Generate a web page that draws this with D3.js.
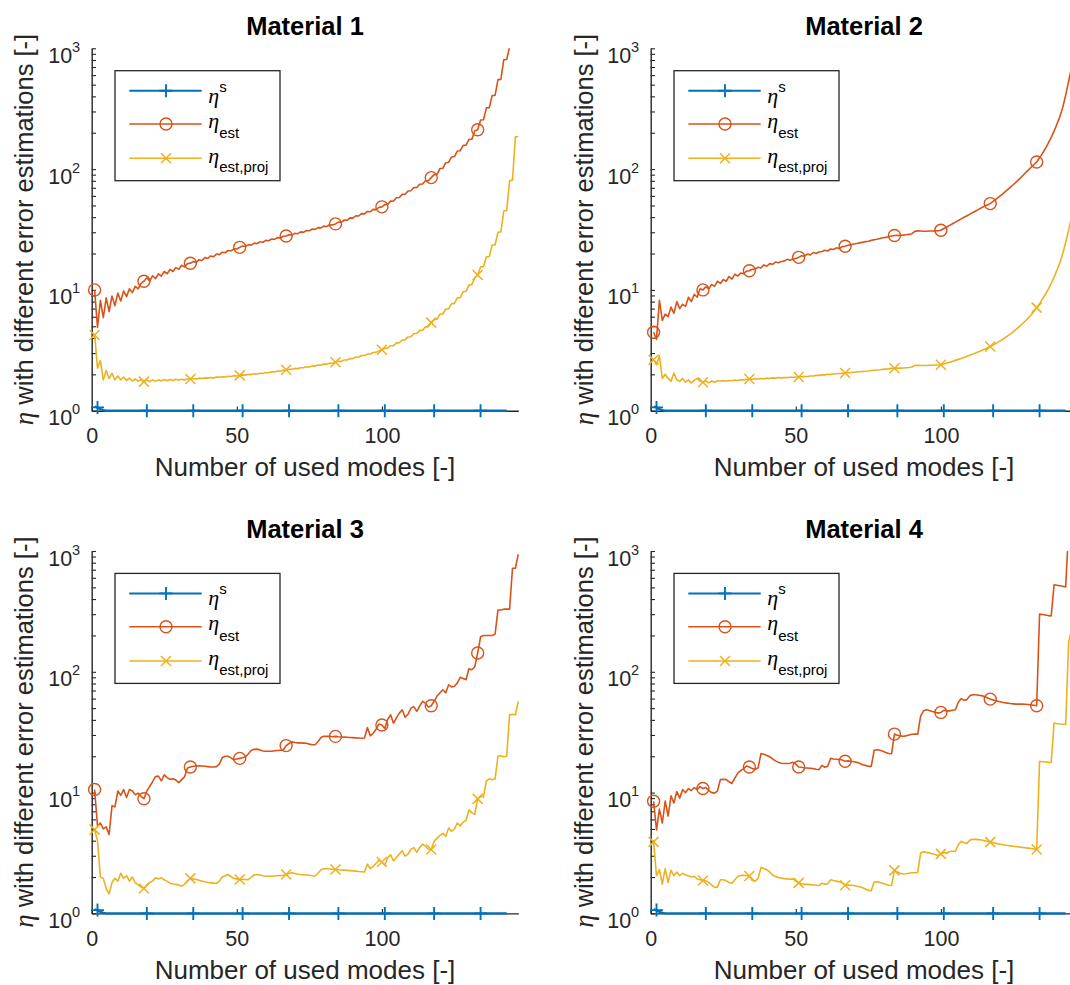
<!DOCTYPE html>
<html>
<head>
<meta charset="utf-8">
<script src="https://cdn.jsdelivr.net/npm/d3@7"></script>
<style>
  body { margin: 0; background: #fff; }
  svg text { font-family: "Liberation Sans", Arial, Helvetica, sans-serif; }
</style>
</head>
<body>
<svg id="fig" width="1070" height="985"></svg>
<script>
// ---- data -------------------------------------------------------------
const modes = d3.range(1, 148);              // number of used modes, 1..147
const xTicks = [0, 50, 100];
const yDecades = [1, 10, 100, 1000];
const yDecadeExponents = ["0", "1", "2", "3"];
const titles = ["Material 1", "Material 2", "Material 3", "Material 4"];
const seriesNames = ["s", "est", "est,proj"];

// positions (1-based mode numbers) where markers are drawn
const markModesS   = [2, 19, 35, 52, 68, 85, 101, 118, 134];
const markModesEst = [1, 18, 34, 51, 67, 84, 100, 117, 133];

// eta^s (same for all four materials)
const etaS = [1.08, 1.065, 1.03, 1.01,
  1,1,1,1,1,1,1,1,1,1,1,1,1,1,1,1,1,1,1,1,1,1,1,1,1,1,1,1,1,1,1,1,1,1,1,1,
  1,1,1,1,1,1,1,1,1,1,1,1,1,1,1,1,1,1,1,1,1,1,1,1,1,1,1,1,1,1,1,1,1,1,1,1,
  1,1,1,1,1,1,1,1,1,1,1,1,1,1,1,1,1,1,1,1,1,1,1,1,1,1,1,1,1,1,1,1,1,1,1,1,
  1,1,1,1,1,1,1,1,1,1,1,1,1,1,1,1,1,1,1,1,1,1,1,1,1,1,1,1,1,1,1];

// Material 1
const etaEst1 = [10, 4.9, 8.2, 5.9, 8.6, 6.6, 8.9, 7.4, 9.4, 8.1, 9.8, 8.8, 10.2, 9.5, 10.7, 10.2, 11.3, 11.8,
  12.6, 11.8, 13.1, 12.4, 13.6, 13.0, 14.2, 13.6, 14.8, 14.2, 15.3, 14.8, 16.0, 15.5, 16.5, 16.6,
  17.2, 16.9, 17.8, 17.5, 18.5, 18.2, 19.1, 18.8, 19.8, 19.6, 20.5, 20.3, 21.2, 21.0, 21.9, 21.8, 22.5,
  23.1, 22.9, 23.7, 23.5, 24.4, 24.2, 25.0, 24.8, 25.7, 25.5, 26.4, 26.2, 27.1, 26.9, 27.8, 27.9,
  28.6, 28.4, 29.4, 29.2, 30.2, 30.0, 31.0, 30.9, 31.9, 31.7, 32.8, 32.6, 33.7, 33.5, 34.6, 34.5, 35.2,
  36.4, 36.3, 37.9, 37.7, 39.5, 39.3, 41.1, 40.9, 42.8, 42.6, 44.6, 44.4, 46.4, 46.2, 48.3, 48.7,
  50.8, 51.0, 54.3, 54.5, 58.0, 58.2, 61.8, 62.0, 65.9, 66.1, 70.3, 70.5, 75.0, 75.2, 80.0, 80.3, 85,
  90, 90.5, 101, 101.5, 113, 113.5, 126, 127, 141, 142, 157, 158, 176, 177, 208, 212,
  255, 256, 321, 322, 407, 408, 550, 552, 805, 808, 1030, 1035, 1400, 1410];
const etaProj1 = [4.24, 2.25, 2.6, 1.8, 2.15, 1.85, 2.04, 1.8, 1.94, 1.8, 1.9, 1.78, 1.86, 1.76, 1.83, 1.75, 1.81, 1.74,
  1.80, 1.74, 1.80, 1.75, 1.80, 1.76, 1.81, 1.77, 1.81, 1.78, 1.82, 1.79, 1.82, 1.80, 1.83, 1.83,
  1.85, 1.83, 1.86, 1.85, 1.87, 1.86, 1.88, 1.87, 1.90, 1.89, 1.91, 1.90, 1.93, 1.92, 1.95, 1.94, 1.96,
  1.98, 1.97, 2.00, 1.99, 2.02, 2.01, 2.04, 2.03, 2.07, 2.06, 2.10, 2.09, 2.13, 2.12, 2.16, 2.18,
  2.20, 2.20, 2.24, 2.23, 2.27, 2.27, 2.31, 2.30, 2.35, 2.34, 2.39, 2.38, 2.43, 2.42, 2.47, 2.47, 2.52,
  2.56, 2.56, 2.63, 2.63, 2.70, 2.70, 2.78, 2.78, 2.86, 2.86, 2.94, 2.95, 3.03, 3.04, 3.13, 3.19,
  3.28, 3.29, 3.45, 3.46, 3.64, 3.65, 3.85, 3.86, 4.08, 4.09, 4.34, 4.35, 4.62, 4.64, 4.95, 4.97, 5.36,
  5.7, 5.72, 6.3, 6.32, 6.95, 6.97, 7.7, 7.73, 8.6, 8.63, 9.7, 9.73, 11.0, 11.05, 12.6, 13.3,
  15.5, 15.6, 18.8, 18.9, 23.5, 23.6, 30, 30.2, 45, 45.5, 80, 81, 185, 186];

// Material 2
const etaEst2 = [4.46, 3.9, 8.2, 5.6, 6.3, 6.0, 7.2, 6.4, 8.0, 7.0, 7.6, 7.3, 8.7, 8.0, 9.2, 8.7, 10.2, 10.0,
  10.6, 10.2, 11.1, 10.7, 11.8, 11.3, 12.2, 11.8, 12.9, 12.3, 13.5, 13.0, 13.8, 13.6, 14.3, 14.4,
  14.8, 14.9, 15.4, 15.2, 16.1, 15.7, 16.5, 16.3, 17.0, 16.8, 17.2, 17.3, 17.9, 17.6, 18.0, 18.2, 18.6,
  19.2, 19.0, 19.8, 19.5, 20.4, 20.0, 20.6, 20.8, 21.3, 21.0, 21.8, 21.6, 22.3, 22.0, 22.8, 23.0,
  23.4, 23.6, 24.0, 24.2, 24.5, 24.8, 25.1, 25.3, 25.7, 26.0, 26.3, 26.6, 27.0, 27.2, 27.5, 27.9, 28.2,
  28.3, 28.2, 28.4, 28.6, 28.8, 29.2, 30.5, 30.8, 30.7, 30.6, 30.6, 30.7, 30.7, 30.8, 30.9, 31.2,
  32.2, 33.2, 34.2, 35.3, 36.4, 37.5, 38.7, 39.9, 41.1, 42.4, 43.7, 45.0, 46.4, 47.8, 49.2, 50.5, 51.8,
  54.0, 56.4, 58.9, 61.6, 64.5, 67.6, 71.0, 74.6, 78.5, 82.7, 87.3, 92.3, 97.6, 103.0, 108.7, 114.6,
  124, 135, 148, 164, 183, 206, 236, 272, 325, 410, 530, 700, 950, 1300];
const etaProj2 = [2.64, 2.4, 2.85, 1.85, 2.0, 1.85, 1.75, 2.05, 1.8, 1.75, 1.85, 1.72, 1.8, 1.7, 1.78, 1.85, 1.75, 1.72,
  1.76, 1.70, 1.76, 1.72, 1.77, 1.75, 1.77, 1.76, 1.78, 1.77, 1.79, 1.78, 1.8, 1.8, 1.82, 1.83,
  1.82, 1.84, 1.83, 1.85, 1.84, 1.86, 1.85, 1.87, 1.86, 1.88, 1.87, 1.88, 1.88, 1.89, 1.89, 1.90, 1.90,
  1.91, 1.92, 1.92, 1.94, 1.94, 1.96, 1.96, 1.98, 1.98, 2.00, 2.00, 2.01, 2.02, 2.03, 2.04, 2.05,
  2.06, 2.07, 2.08, 2.09, 2.10, 2.11, 2.12, 2.13, 2.15, 2.16, 2.17, 2.18, 2.20, 2.21, 2.22, 2.24, 2.25,
  2.26, 2.25, 2.26, 2.27, 2.28, 2.30, 2.37, 2.38, 2.37, 2.37, 2.37, 2.38, 2.38, 2.39, 2.39, 2.40,
  2.44, 2.48, 2.52, 2.56, 2.61, 2.66, 2.71, 2.76, 2.82, 2.88, 2.94, 3.01, 3.08, 3.15, 3.23, 3.31, 3.40,
  3.5, 3.61, 3.73, 3.86, 4.0, 4.16, 4.33, 4.52, 4.73, 4.96, 5.22, 5.5, 5.82, 6.17, 6.6, 7.13,
  7.7, 8.4, 9.2, 10.1, 11.3, 12.7, 14.6, 16.8, 20.0, 24.8, 31.0, 40, 55, 80];

// Material 3
const etaEst3 = [10.6, 5.3, 5.6, 5.0, 5.2, 4.5, 7.8, 7.6, 10.3, 9.5, 10.6, 9.1, 10.6, 10.3, 9.6, 9.9, 9.3, 8.9,
  10.3, 11.3, 12.3, 13.6, 13.7, 12.5, 14.0, 13.3, 12.9, 13.0, 12.7, 12.1, 12.8, 13.5, 16.0, 16.3,
  16.5, 16.6, 16.7, 16.6, 16.5, 16.4, 16.3, 16.3, 16.4, 17.2, 19.5, 20.0, 20.0, 19.4, 18.7, 19.0, 19.2,
  19.4, 19.8, 21.0, 22.4, 22.8, 22.9, 22.5, 22.1, 22.0, 22.0, 22.0, 22.2, 22.3, 22.4, 22.5, 24.5,
  25.5, 26.3, 26.0, 25.8, 25.8, 25.7, 25.6, 25.2, 24.9, 24.9, 26.5, 28.6, 29.3, 29.2, 29.2, 29.0, 29.2,
  29.0, 28.9, 28.8, 28.7, 28.6, 28.5, 28.4, 28.3, 28.2, 28.3, 34.5, 29.5, 31.0, 33.5, 37.0, 36.3,
  34.0, 40.5, 44.0, 37.5, 41.5, 45.5, 48.5, 42.0, 44.5, 50.0, 51.5, 47.0, 52.0, 57.0, 55.0, 51.0, 52.4,
  57, 63, 67, 71, 67, 78, 75, 76, 81, 90, 88, 86, 106, 104, 110, 143,
  195, 200, 200, 200, 200, 205, 325, 325, 330, 330, 330, 720, 720, 940];
const etaProj3 = [4.94, 4.0, 2.0, 1.95, 1.6, 1.45, 1.8, 1.95, 1.85, 2.15, 1.95, 2.05, 1.85, 2.0, 1.8, 1.72, 1.65, 1.61,
  1.72, 1.8, 1.86, 1.97, 1.93, 1.97, 1.9, 1.84, 1.78, 1.75, 1.74, 1.72, 1.68, 1.74, 1.86, 1.95,
  1.93, 1.91, 1.88, 1.85, 1.83, 1.80, 1.79, 1.78, 1.77, 1.85, 2.0, 2.05, 2.1, 2.02, 1.95, 1.93, 1.91,
  1.92, 1.91, 1.90, 2.0, 2.08, 2.1, 2.08, 2.05, 2.03, 2.03, 2.03, 2.04, 2.05, 2.06, 2.06, 2.10,
  2.14, 2.17, 2.14, 2.11, 2.1, 2.09, 2.08, 2.07, 2.05, 2.04, 2.15, 2.3, 2.34, 2.34, 2.33, 2.32, 2.31,
  2.3, 2.29, 2.28, 2.27, 2.26, 2.25, 2.24, 2.22, 2.21, 2.2, 2.55, 2.35, 2.45, 2.6, 2.75, 2.66,
  2.5, 2.9, 3.05, 2.72, 2.9, 3.1, 3.3, 2.98, 3.1, 3.38, 3.5, 3.2, 3.5, 3.75, 3.6, 3.4, 3.38,
  3.95, 4.2, 4.4, 4.6, 4.35, 5.1, 4.8, 5.0, 5.6, 5.3, 5.7, 5.9, 7.2, 6.8, 6.6, 8.87,
  9.3, 9.2, 12.5, 13.0, 12.8, 13.0, 20.0, 20.2, 19.8, 20.0, 44, 44.5, 44, 57];

// Material 4
const etaEst4 = [8.47, 4.9, 7.3, 5.6, 8.5, 6.4, 9.4, 8.2, 10.2, 9.0, 10.6, 10.0, 10.8, 10.4, 11.0, 10.6, 11.2, 10.8,
  11.0, 10.4, 10.0, 9.9, 10.3, 12.8, 12.9, 12.8, 12.3, 11.9, 13.2, 14.5, 15.2, 15.8, 16.6, 16.3,
  15.8, 15.6, 16.0, 21.0, 20.8, 20.3, 19.8, 19.0, 18.3, 17.8, 17.5, 17.4, 17.4, 17.5, 17.8, 17.2, 16.3,
  16.2, 16.0, 16.0, 15.9, 15.8, 15.6, 15.5, 16.8, 16.2, 16.5, 19.2, 19.0, 18.9, 18.8, 18.6, 18.2,
  18.3, 18.2, 18.0, 17.8, 17.5, 17.0, 16.8, 16.5, 16.5, 22.4, 22.6, 22.4, 22.0, 21.5, 21.1, 21.0, 30.5,
  29.8, 29.5, 29.3, 29.5, 30.0, 30.4, 30.5, 30.5, 43.0, 47.5, 48.5, 47.8, 47.0, 46.3, 45.5, 46.1,
  48.0, 47.5, 47.5, 48.0, 48.5, 56, 60, 58, 59, 63.5, 64.5, 64.5, 64, 63.5, 62.5, 61, 59.4,
  58.5, 57.5, 56.8, 56, 55.5, 55, 54.6, 54.3, 54, 54, 54, 53.8, 53.6, 53.2, 52.8, 52.4,
  300, 298, 295, 292, 290, 525, 520, 515, 510, 505, 1500, 1500, 1600, 1700];
const etaProj4 = [3.91, 2.05, 2.3, 1.75, 2.35, 1.8, 2.28, 2.05, 2.2, 2.05, 2.15, 2.08, 2.05, 2.0, 2.03, 1.93, 1.9, 1.87,
  1.86, 1.8, 1.72, 1.64, 1.65, 1.9, 1.9, 1.86, 1.8, 1.78, 1.9, 2.02, 2.06, 2.07, 2.06, 2.04,
  1.87, 1.85, 1.95, 2.4, 2.35, 2.3, 2.2, 2.08, 2.02, 1.98, 1.96, 1.94, 1.93, 1.92, 1.93, 1.85, 1.79,
  1.76, 1.74, 1.74, 1.73, 1.72, 1.71, 1.7, 1.78, 1.74, 1.76, 1.9, 1.87, 1.85, 1.83, 1.79, 1.71,
  1.72, 1.71, 1.70, 1.68, 1.66, 1.63, 1.59, 1.55, 1.54, 1.82, 1.83, 1.8, 1.77, 1.74, 1.71, 1.7, 2.27,
  2.2, 2.15, 2.12, 2.13, 2.15, 2.17, 2.17, 2.18, 3.15, 3.25, 3.2, 3.17, 3.12, 3.07, 3.0, 3.11,
  3.2, 3.15, 3.25, 3.27, 3.27, 3.7, 3.95, 3.85, 3.8, 4.05, 4.1, 4.1, 4.08, 4.05, 4.0, 3.95, 3.89,
  3.85, 3.8, 3.76, 3.72, 3.68, 3.65, 3.62, 3.6, 3.57, 3.55, 3.52, 3.5, 3.47, 3.44, 3.41, 3.38,
  18.2, 18.0, 18.0, 17.8, 17.8, 37.7, 37.3, 37, 36.8, 36.6, 175, 220, 230, 240];

// ---- layout & style -----------------------------------------------------
const W = 426.6, H = 362.4;
const origins = [[91.7, 48.3], [650.7, 48.3], [91.7, 551], [650.7, 551]];
const colors = ["#0072BD", "#D95319", "#EDB120"];
const axisColor = "#262626";
const tickLen = 4.3;

const panels = [
  { est: etaEst1, proj: etaProj1 },
  { est: etaEst2, proj: etaProj2 },
  { est: etaEst3, proj: etaProj3 },
  { est: etaEst4, proj: etaProj4 }
];

const svg = d3.select("#fig");
const defs = svg.append("defs");

const markerPaths = {
  plus:  "M-6.5,0H6.5M0,-6.5V6.5",
  cross: "M-5,-5L5,5M-5,5L5,-5"
};
function drawMarker(sel, kind, color) {
  if (kind === "circle") {
    sel.append("circle").attr("r", 6).attr("fill", "none")
      .attr("stroke", color).attr("stroke-width", 1.4);
  } else {
    sel.append("path").attr("d", markerPaths[kind]).attr("fill", "none")
      .attr("stroke", color).attr("stroke-width", kind === "plus" ? 1.9 : 1.5);
  }
}

panels.forEach((p, i) => {
  const [ox, oy] = origins[i];
  const g = svg.append("g").attr("transform", `translate(${ox},${oy})`);
  const x = d3.scaleLinear().domain([0, 147]).range([0, W]);
  const y = d3.scaleLog().domain([1, 1000]).range([H, 0]);

  const clipId = "clip" + i;
  defs.append("clipPath").attr("id", clipId)
    .append("rect").attr("x", -2).attr("y", 0).attr("width", W + 4).attr("height", H + 3);

  // axes
  const yAxis = d3.axisLeft(y).tickValues(y.ticks()).tickSize(-tickLen)
    .tickSizeOuter(0).tickFormat("");
  const gy = g.append("g").call(yAxis);
  const xAxis = d3.axisBottom(x).tickValues(xTicks).tickSize(-tickLen)
    .tickSizeOuter(0).tickPadding(17.3);
  const gx = g.append("g").attr("transform", `translate(0,${H})`).call(xAxis);
  [gx, gy].forEach(a => {
    a.selectAll("path.domain").attr("stroke", axisColor).attr("stroke-width", 1.4);
    a.selectAll(".tick line").attr("stroke", axisColor).attr("stroke-width", 1.1);
  });
  gx.selectAll(".tick text").attr("fill", axisColor)
    .attr("font-size", 21.5).attr("font-family", "Liberation Sans, Arial, sans-serif");

  // decade labels 10^n
  yDecades.forEach((v, k) => {
    const t = g.append("text").attr("x", -11.5).attr("y", y(v) + 14.5)
      .attr("text-anchor", "end").attr("fill", axisColor).attr("font-size", 21.5);
    t.append("tspan").text("10");
    t.append("tspan").attr("dy", -11).attr("font-size", 14.5).text(yDecadeExponents[k]);
  });

  // title and axis labels
  g.append("text").attr("x", W / 2).attr("y", -13.3).attr("text-anchor", "middle")
    .attr("font-weight", "bold").attr("font-size", 25.5).attr("fill", "#000").text(titles[i]);
  g.append("text").attr("x", W / 2).attr("y", H + 65.3).attr("text-anchor", "middle")
    .attr("font-size", 26).attr("fill", axisColor).text("Number of used modes [-]");
  const yl = g.append("text")
    .attr("transform", `translate(-58.2,${H / 2}) rotate(-90)`)
    .attr("text-anchor", "middle").attr("font-size", 25.5).attr("fill", axisColor);
  yl.append("tspan").attr("font-family", "Liberation Serif, serif").attr("font-style", "italic")
    .attr("font-size", 27).text("η");
  yl.append("tspan").text(" with different error estimations [-]");

  // series
  const series = [
    { values: etaS,   marks: markModesS,   marker: "plus",   width: 2.4 },
    { values: p.est,  marks: markModesEst, marker: "circle", width: 1.6 },
    { values: p.proj, marks: markModesEst, marker: "cross",  width: 1.6 }
  ];
  const line = d3.line().x(d => x(d[0])).y(d => y(d[1]));
  const plotArea = g.append("g").attr("clip-path", `url(#${clipId})`);
  series.forEach((s, k) => {
    const pts = modes.map((m, j) => [m, s.values[j]]);
    plotArea.append("path").datum(pts).attr("d", line).attr("fill", "none")
      .attr("stroke", colors[k]).attr("stroke-width", s.width).attr("stroke-linejoin", "round");
    s.marks.forEach(m => {
      const mg = g.append("g").attr("transform", `translate(${x(m)},${y(s.values[m - 1])})`);
      drawMarker(mg, s.marker, colors[k]);
    });
  });

  // legend
  const lg = g.append("g").attr("transform", "translate(23.3,22.4)");
  lg.append("rect").attr("width", 165).attr("height", 110).attr("fill", "#fff")
    .attr("stroke", axisColor).attr("stroke-width", 1.3);
  const rowY = [20, 53.3, 87.6];
  const etaDy = [12, 3.8, 4.5];
  const scriptDy = [-11, 10.5, 9.5];
  series.forEach((s, k) => {
    lg.append("line").attr("x1", 14.3).attr("x2", 86.7).attr("y1", rowY[k]).attr("y2", rowY[k])
      .attr("stroke", colors[k]).attr("stroke-width", k === 0 ? 2 : 1.6);
    drawMarker(lg.append("g").attr("transform", `translate(51,${rowY[k]})`), s.marker, colors[k]);
    const t = lg.append("text").attr("x", 93.3).attr("y", rowY[k] + etaDy[k]).attr("fill", "#000");
    t.append("tspan").attr("font-family", "Liberation Serif, serif").attr("font-style", "italic")
      .attr("font-size", 22).text("η");
    t.append("tspan").attr("dy", scriptDy[k]).attr("font-size", 15).text(seriesNames[k]);
  });
});
</script>
</body>
</html>
